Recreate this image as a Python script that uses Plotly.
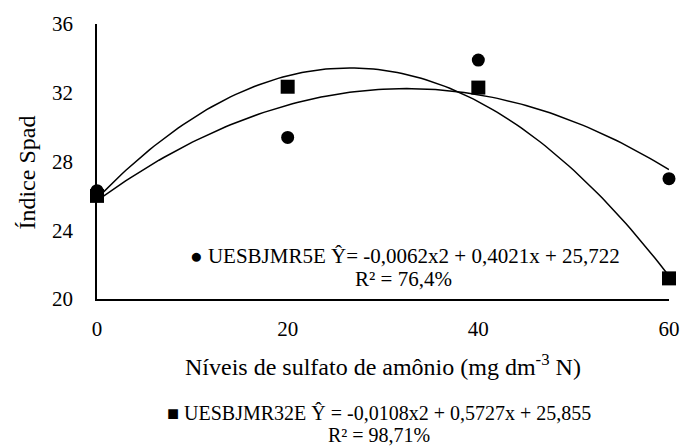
import numpy as np
import plotly.graph_objects as go

# Nitrogen levels (mg dm-3 N)
doses = [0, 20, 40, 60]

# SPAD index observed per cultivar
spad_5e = [26.3, 29.4, 33.9, 27.0]
spad_32e = [26.0, 32.35, 32.3, 21.2]

# Quadratic regression coefficients (a, b, c) for y = a*x^2 + b*x + c
coef_5e = [-0.0062, 0.4021, 25.722]
coef_32e = [-0.0108, 0.5727, 25.855]

y_ticks = [20, 24, 28, 32, 36]
x_ticks = [0, 20, 40, 60]

FONT = "Liberation Serif"
TICK_SIZE = 21
TEXT_SIZE = 21
TITLE_SIZE = 24

x_fit = np.linspace(0, 60, 121)


def quad(c, x):
    return c[0] * x ** 2 + c[1] * x + c[2]


fig = go.Figure()

fig.add_trace(go.Scatter(x=x_fit, y=quad(coef_5e, x_fit), mode="lines",
                         line=dict(color="black", width=1.5), showlegend=False))
fig.add_trace(go.Scatter(x=x_fit, y=quad(coef_32e, x_fit), mode="lines",
                         line=dict(color="black", width=1.5), showlegend=False))
fig.add_trace(go.Scatter(x=doses, y=spad_5e, mode="markers",
                         marker=dict(symbol="circle", size=13, color="black"),
                         showlegend=False, cliponaxis=False))
fig.add_trace(go.Scatter(x=doses, y=spad_32e, mode="markers",
                         marker=dict(symbol="square", size=14, color="black"),
                         showlegend=False, cliponaxis=False))

W, H = 692, 446
L, R, T, B = 97, 14, 23, 147
pw, ph = W - L - R, H - T - B

fig.update_layout(
    width=W, height=H,
    margin=dict(l=L, r=R, t=T, b=B),
    paper_bgcolor="white", plot_bgcolor="white",
    font=dict(family=FONT, size=TEXT_SIZE, color="black"),
    xaxis=dict(range=[0, 60], tickvals=x_ticks, showgrid=False, zeroline=False,
               showline=True, linecolor="black", linewidth=1.6,
               ticks="", ticklabelstandoff=10,
               tickfont=dict(family=FONT, size=TICK_SIZE, color="black")),
    yaxis=dict(range=[20, 36], tickvals=y_ticks, showgrid=False, zeroline=False,
               showline=True, linecolor="black", linewidth=1.6,
               ticks="", ticklabelstandoff=18,
               tickfont=dict(family=FONT, size=TICK_SIZE, color="black")),
)


def label(text, px, py, size=TEXT_SIZE, angle=0):
    """Single text line centred on a figure pixel position."""
    fig.add_annotation(
        text=text, textangle=angle, showarrow=False,
        xref="paper", yref="paper",
        x=(px - L) / pw, y=1 - (py - T) / ph,
        xanchor="center", yanchor="middle",
        font=dict(family=FONT, size=size, color="black"))


label("Índice Spad", 26, 172, size=TITLE_SIZE, angle=-90)
label("Níveis de sulfato de amônio (mg dm<sup>-3</sup> N)", 387, 365, size=TITLE_SIZE)

label("● UESBJMR5E Ŷ= -0,0062x2 + 0,4021x + 25,722", 410, 256)
label("R² = 76,4%", 408, 279)

label("■ UESBJMR32E Ŷ = -0,0108x2 + 0,5727x + 25,855", 383, 413, size=20)
label("R² = 98,71%", 383, 435, size=20)

fig.write_html("out.html")
